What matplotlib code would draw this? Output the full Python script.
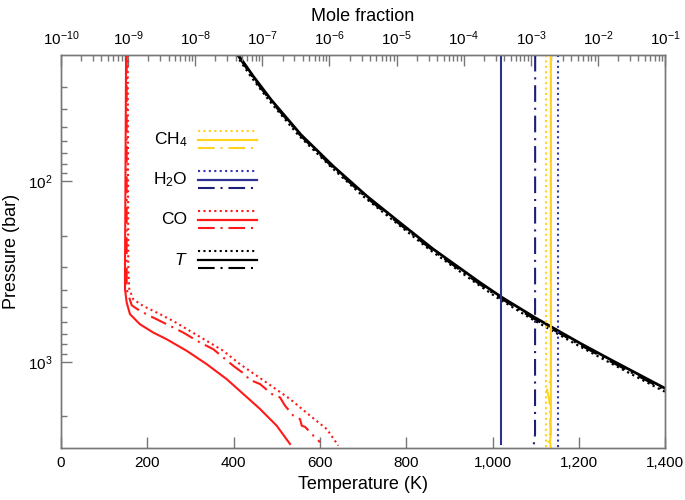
import numpy as np
import matplotlib
matplotlib.use('Agg')
import matplotlib.pyplot as plt
from matplotlib.ticker import FixedLocator, NullFormatter, LogLocator

plt.rcParams['font.family'] = ['Liberation Sans', 'DejaVu Sans']
plt.rcParams['mathtext.fontset'] = 'custom'
plt.rcParams['mathtext.rm'] = 'Liberation Sans'
plt.rcParams['mathtext.it'] = 'Liberation Sans:italic'

# temperature profiles (K) vs pressure (bar)
p_T = [20.0, 26.3, 35.4, 55.2, 82.6, 121, 170, 238, 364, 440, 570, 789,
       991, 1403, 1500]
T_solid = [411, 446, 487, 556, 631, 709, 786, 863, 971, 1022, 1099, 1203,
           1280, 1400, 1425]
T_dot = [406, 440, 481, 549, 624, 700, 777, 853, 960, 1010, 1086, 1189,
         1265, 1384, 1409]
T_dashdot = [409, 443, 484, 553, 627, 704, 781, 858, 965, 1016, 1092, 1196,
             1272, 1392, 1417]

# CO mole fraction (log10) vs log10 pressure
co_solid_lp = [1.3, 2.488, 2.598, 2.672, 2.736, 2.792, 2.838, 2.875, 2.939,
               3.013, 3.096, 3.178, 3.261, 3.354, 3.455]
co_solid_lx = [-9.03, -9.046, -9.046, -9.021, -8.972, -8.823, -8.625, -8.425,
               -8.127, -7.829, -7.531, -7.284, -7.035, -6.786, -6.588]
co_dot_lp = [1.3, 2.488, 2.598, 2.654, 2.691, 2.727, 2.774, 2.829, 2.884,
             2.939, 3.013, 3.077, 3.141, 3.206, 3.252, 3.298, 3.372, 3.464]
co_dot_lx = [-9.006, -8.997, -8.982, -8.923, -8.774, -8.574, -8.327, -8.078,
             -7.829, -7.582, -7.333, -7.084, -6.837, -6.588, -6.439, -6.29,
             -6.041, -5.868]
co_dd_lp = [1.3, 2.6, 2.687, 2.718, 2.755, 2.801, 2.838, 2.893, 2.93, 3.022,
            3.077, 3.096, 3.123, 3.178, 3.197, 3.243, 3.298, 3.317, 3.354,
            3.36, 3.409, 3.445]
co_dd_lx = [-9.021, -9.021, -8.946, -8.823, -8.625, -8.376, -8.178, -7.929,
            -7.731, -7.433, -7.233, -7.209, -7.035, -6.86, -6.737, -6.662,
            -6.539, -6.439, -6.413, -6.364, -6.24, -6.141]

# H2O and CH4 (nearly constant) mole fractions, log10 vs log10 pressure
h2o_solid_lp = [1.3, 3.455]
h2o_solid_lx = [-3.443, -3.443]
h2o_dot_lp = [1.3, 3.48]
h2o_dot_lx = [-2.589, -2.589]
h2o_dd_lp = [1.3, 3.40, 3.44, 3.47]
h2o_dd_lx = [-2.936, -2.938, -2.947, -2.967]
ch4_solid_lp = [1.3, 3.30, 3.36, 3.40, 3.44, 3.48]
ch4_solid_lx = [-2.702, -2.702, -2.71, -2.702, -2.715, -2.702]
ch4_dot_lp = [1.3, 3.48]
ch4_dot_lx = [-2.777, -2.777]
ch4_dd_lp = [1.3, 3.10, 3.13, 3.16, 3.20, 3.26, 3.30, 3.38, 3.43, 3.47]
ch4_dd_lx = [-2.702, -2.702, -2.74, -2.76, -2.73, -2.71, -2.72, -2.70, -2.74, -2.72]

c_ch4 = '#ffd21f'
c_h2o = '#2e3192'
c_h2o_dot = '#3434b0'
c_h2o_dd = '#1c1f7a'
c_co = '#ff1a1a'
c_T = 'black'
spine_c = '#777777'

dot = (0, (1, 1.6))
dashdot = (0, (8, 2.8, 1, 2.8))

fig = plt.figure(figsize=(6.85, 5.0), dpi=100)
ax = fig.add_axes([0.089, 0.104, 0.882, 0.786])
ax2 = ax.twiny()

ax.set_yscale('log')
ax.set_ylim(3000, 20)
ax.set_xlim(0, 1400)
ax2.set_xscale('log')
ax2.set_xlim(1e-10, 1e-1)

# temperature
ax.plot(T_dot, p_T, color=c_T, lw=1.6, ls=dot)
ax.plot(T_dashdot, p_T, color=c_T, lw=1.6, ls=dashdot)
ax.plot(T_solid, p_T, color=c_T, lw=2.0)

def mole(a2, lx, lp, color, ls, lw=1.5):
    a2.plot(10 ** np.array(lx), 10 ** np.array(lp), color=color, ls=ls, lw=lw)

mole(ax2, co_dot_lx, co_dot_lp, c_co, dot)
mole(ax2, co_dd_lx, co_dd_lp, c_co, dashdot)
mole(ax2, co_solid_lx, co_solid_lp, c_co, '-')
mole(ax2, h2o_solid_lx, h2o_solid_lp, c_h2o, '-')
mole(ax2, h2o_dot_lx, h2o_dot_lp, c_h2o_dot, dot)
mole(ax2, h2o_dd_lx, h2o_dd_lp, c_h2o_dd, dashdot)
mole(ax2, ch4_dot_lx, ch4_dot_lp, c_ch4, dot)
mole(ax2, ch4_solid_lx, ch4_solid_lp, c_ch4, '-')
mole(ax2, ch4_dd_lx, ch4_dd_lp, c_ch4, dashdot)
ax2.set_ylim(3000, 20)

# axes styling
for a in (ax, ax2):
    for s in a.spines.values():
        s.set_color(spine_c)
        s.set_linewidth(1.0)

ax.set_xticks([0, 200, 400, 600, 800, 1000, 1200, 1400])
ax.set_xticklabels(['0', '200', '400', '600', '800', '1,000', '1,200', '1,400'])
ax.yaxis.set_major_locator(FixedLocator([100, 1000]))
ax.set_yticklabels(['10$^{2}$', '10$^{3}$'])
ax.yaxis.set_minor_locator(FixedLocator([30, 40, 50, 60, 70, 80, 90,
                                         200, 300, 400, 500, 600, 700, 800, 900, 2000]))
ax.yaxis.set_minor_formatter(NullFormatter())
ax.tick_params(axis='both', which='major', direction='in', length=8, width=1,
               color=spine_c, labelsize=11, pad=6, right=False, top=False)
ax.tick_params(axis='y', which='minor', direction='in', length=4, width=1,
               color=spine_c, right=False)
ax.tick_params(axis='x', which='minor', bottom=False)

dec = [10.0 ** k for k in range(-10, 0)]
ax2.xaxis.set_major_locator(FixedLocator(dec))
ax2.set_xticklabels(['10$^{\u2212%d}$' % k for k in range(10, 0, -1)])
ax2.xaxis.set_minor_locator(LogLocator(base=10, subs=np.arange(2, 10), numticks=20))
ax2.xaxis.set_minor_formatter(NullFormatter())
ax2.tick_params(axis='x', which='major', direction='in', length=8, width=1,
                color=spine_c, labelsize=11, pad=5)
ax2.tick_params(axis='x', which='minor', direction='in', length=4, width=1,
                color=spine_c)
ax2.tick_params(axis='y', which='both', right=False, left=False)

ax.set_xlabel('Temperature (K)', fontsize=13, labelpad=4)
ax.set_ylabel('Pressure (bar)', fontsize=13, labelpad=6)
ax2.set_xlabel('Mole fraction', fontsize=13, labelpad=6)

# legend: label plus dotted / solid / dash-dot samples
leg_items = [('CH$_4$', c_ch4, c_ch4, c_ch4),
             ('H$_2$O', c_h2o_dot, c_h2o, c_h2o_dd),
             ('CO', c_co, c_co, c_co),
             ('$\\mathit{T}$', c_T, c_T, c_T)]
x0, x1, xl = 0.227, 0.3245, 0.209
y_top, row, sub = 0.7845, 0.1018, 0.022
for i, (lab, cd, cs, cdd) in enumerate(leg_items):
    yc = y_top - i * row
    ax.plot([x0, x1], [yc + sub] * 2, transform=ax.transAxes, color=cd, ls=dot, lw=1.5)
    ax.plot([x0, x1], [yc] * 2, transform=ax.transAxes, color=cs, lw=1.6)
    ax.plot([x0, x1], [yc - sub] * 2, transform=ax.transAxes, color=cdd, ls=dashdot, lw=1.5)
    ax.text(xl, yc, lab, transform=ax.transAxes, ha='right', va='center', fontsize=12.5)

fig.savefig('out.png', dpi=100)
